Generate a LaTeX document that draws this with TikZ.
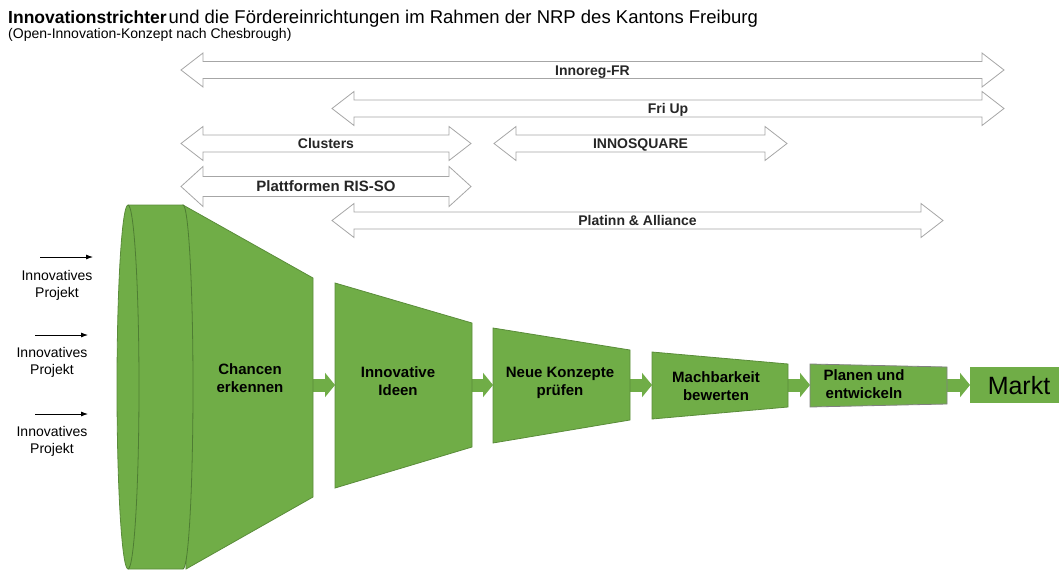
\documentclass[tikz,border=0pt]{standalone}
\usepackage{fontspec}
\setmainfont{Liberation Sans}
\usetikzlibrary{arrows.meta}
\definecolor{funnel}{HTML}{70AD47}
\definecolor{funneldark}{HTML}{5A8C3A}
\definecolor{rimline}{HTML}{4E7D33}
\definecolor{bandgray}{HTML}{A6A6A6}
\definecolor{labelgray}{HTML}{262626}
\tikzset{
  band/.style={draw=bandgray, fill=white, line width=0.8pt},
  bandtext/.style={font=\bfseries\fontsize{14}{16}\selectfont, text=labelgray, inner sep=0pt, anchor=base},
  stage/.style={fill=funnel, draw=funneldark, line width=0.8pt},
  stagetext/.style={font=\bfseries\fontsize{15}{18}\selectfont, align=center, inner sep=0pt},
  flow/.style={draw=funnel, line width=13pt, -{Triangle[length=10pt,width=24pt]}},
  feed/.style={-{Latex[length=7pt,width=5pt]}, line width=0.8pt},
  feedtext/.style={font=\fontsize{14}{17}\selectfont, align=center, inner sep=0pt}
}
% double block arrow: name, left tip, right tip, centre y, shaft half, label
\newcommand{\band}[6]{%
  \draw[band] (#2,#4) -- ++(22,-2*#5) -- ++(0,#5) -- ({#3-22},{#4-#5}) -- ++(0,-#5)
    -- (#3,#4) -- ({#3-22},{#4+2*#5}) -- ++(0,-#5) -- ({#2+22},{#4+#5}) -- ++(0,#5) -- cycle;
  \node[bandtext] (#1) at ({(#2+#3)/2},{#4+5}) {#6};}
\begin{document}
\begin{tikzpicture}[x=1pt,y=-1pt]
  \useasboundingbox (0,0) rectangle (1059,570);
  % title
  \node[anchor=base west, inner sep=0pt, font=\fontsize{18.5}{20}\selectfont] (title) at (8,23.5)
    {{\fontsize{17.5}{20}\selectfont\bfseries Innovationstrichter}\hspace{2pt}und die Fördereinrichtungen im Rahmen der NRP des Kantons Freiburg};
  \node[anchor=base west, inner sep=0pt, font=\fontsize{14}{16}\selectfont] (subtitle) at (8,38.5)
    {(Open-Innovation-Konzept nach Chesbrough)};
  % support programmes
  \band{innoreg}{181}{1004}{70}{8.5}{Innoreg-FR}
  \band{friup}{332}{1004}{108.5}{8.5}{Fri Up}
  \band{clusters}{181}{471}{143.5}{8.5}{Clusters}
  \band{innosquare}{494}{787}{143.5}{8.5}{INNOSQUARE}
  \band{risso}{181}{471}{186.5}{10}{\fontsize{15}{17}\selectfont Plattformen RIS-SO}
  \band{platinn}{332}{943}{220.5}{8.5}{Platinn \& Alliance}
  % flow between the stages
  \coordinate (c1o) at (313,385); \coordinate (c2i) at (335,385);
  \coordinate (c2o) at (472,385); \coordinate (c3i) at (493,385);
  \coordinate (c3o) at (630,385); \coordinate (c4i) at (652,385);
  \coordinate (c4o) at (788,385); \coordinate (c5i) at (810,385);
  \coordinate (c5o) at (947,385); \coordinate (c6i) at (970,385);
  \draw[flow] (c1o) -- (c2i);
  \draw[flow] (c2o) -- (c3i);
  \draw[flow] (c3o) -- (c4i);
  \draw[flow] (c4o) -- (c5i);
  \draw[flow] (c5o) -- (c6i);
  % funnel
  \draw[stage] (183,205) -- (313,278) -- (313,497) -- (186,569) -- cycle;
  \fill[funnel] (128,205) -- (183,205) arc[start angle=-90, end angle=90, x radius=10, y radius=182]
    -- (128,569) arc[start angle=90, end angle=270, x radius=11, y radius=182] -- cycle;
  \draw[funneldark, line width=0.8pt] (183,205) -- (128,205)
    arc[start angle=-90, end angle=-270, x radius=11, y radius=182] -- (183,569);
  \draw[rimline, line width=0.8pt] (128,205) arc[start angle=-90, end angle=90, x radius=11, y radius=182];
  \draw[rimline, line width=0.8pt] (183,205) arc[start angle=-90, end angle=90, x radius=10, y radius=182];
  \draw[stage] (335,283) -- (472,323) -- (472,447) -- (335,488) -- cycle;
  \draw[stage] (493,328) -- (630,350) -- (630,420) -- (493,443) -- cycle;
  \draw[stage] (652,352) -- (788,364) -- (788,407) -- (652,419) -- cycle;
  \draw[stage, draw=gray] (810,364) -- (947,367) -- (947,404) -- (810,407) -- cycle;
  \fill[funnel] (970,367) rectangle (1059,403);
  \node[stagetext] (chancen) at (250,378) {Chancen\\erkennen};
  \node[stagetext] (ideen) at (398,381) {Innovative\\Ideen};
  \node[stagetext] (konzepte) at (560,383) {Neue Konzepte\\prüfen};
  \node[stagetext] (machbar) at (716,386) {Machbarkeit\\bewerten};
  \node[stagetext] (planen) at (864,384) {Planen und\\entwickeln};
  \node[inner sep=0pt, font=\fontsize{25}{28}\selectfont] (markt) at (1019,386) {Markt};
  % incoming projects
  \coordinate (in1s) at (40,257); \coordinate (in1e) at (93,257);
  \coordinate (in2s) at (35,335); \coordinate (in2e) at (88,335);
  \coordinate (in3s) at (35,414); \coordinate (in3e) at (88,414);
  \draw[feed] (in1s) -- (in1e);
  \draw[feed] (in2s) -- (in2e);
  \draw[feed] (in3s) -- (in3e);
  \node[feedtext] (proj1) at (57,285) {Innovatives\\Projekt};
  \node[feedtext] (proj2) at (52,362) {Innovatives\\Projekt};
  \node[feedtext] (proj3) at (52,441) {Innovatives\\Projekt};
\end{tikzpicture}
\end{document}
